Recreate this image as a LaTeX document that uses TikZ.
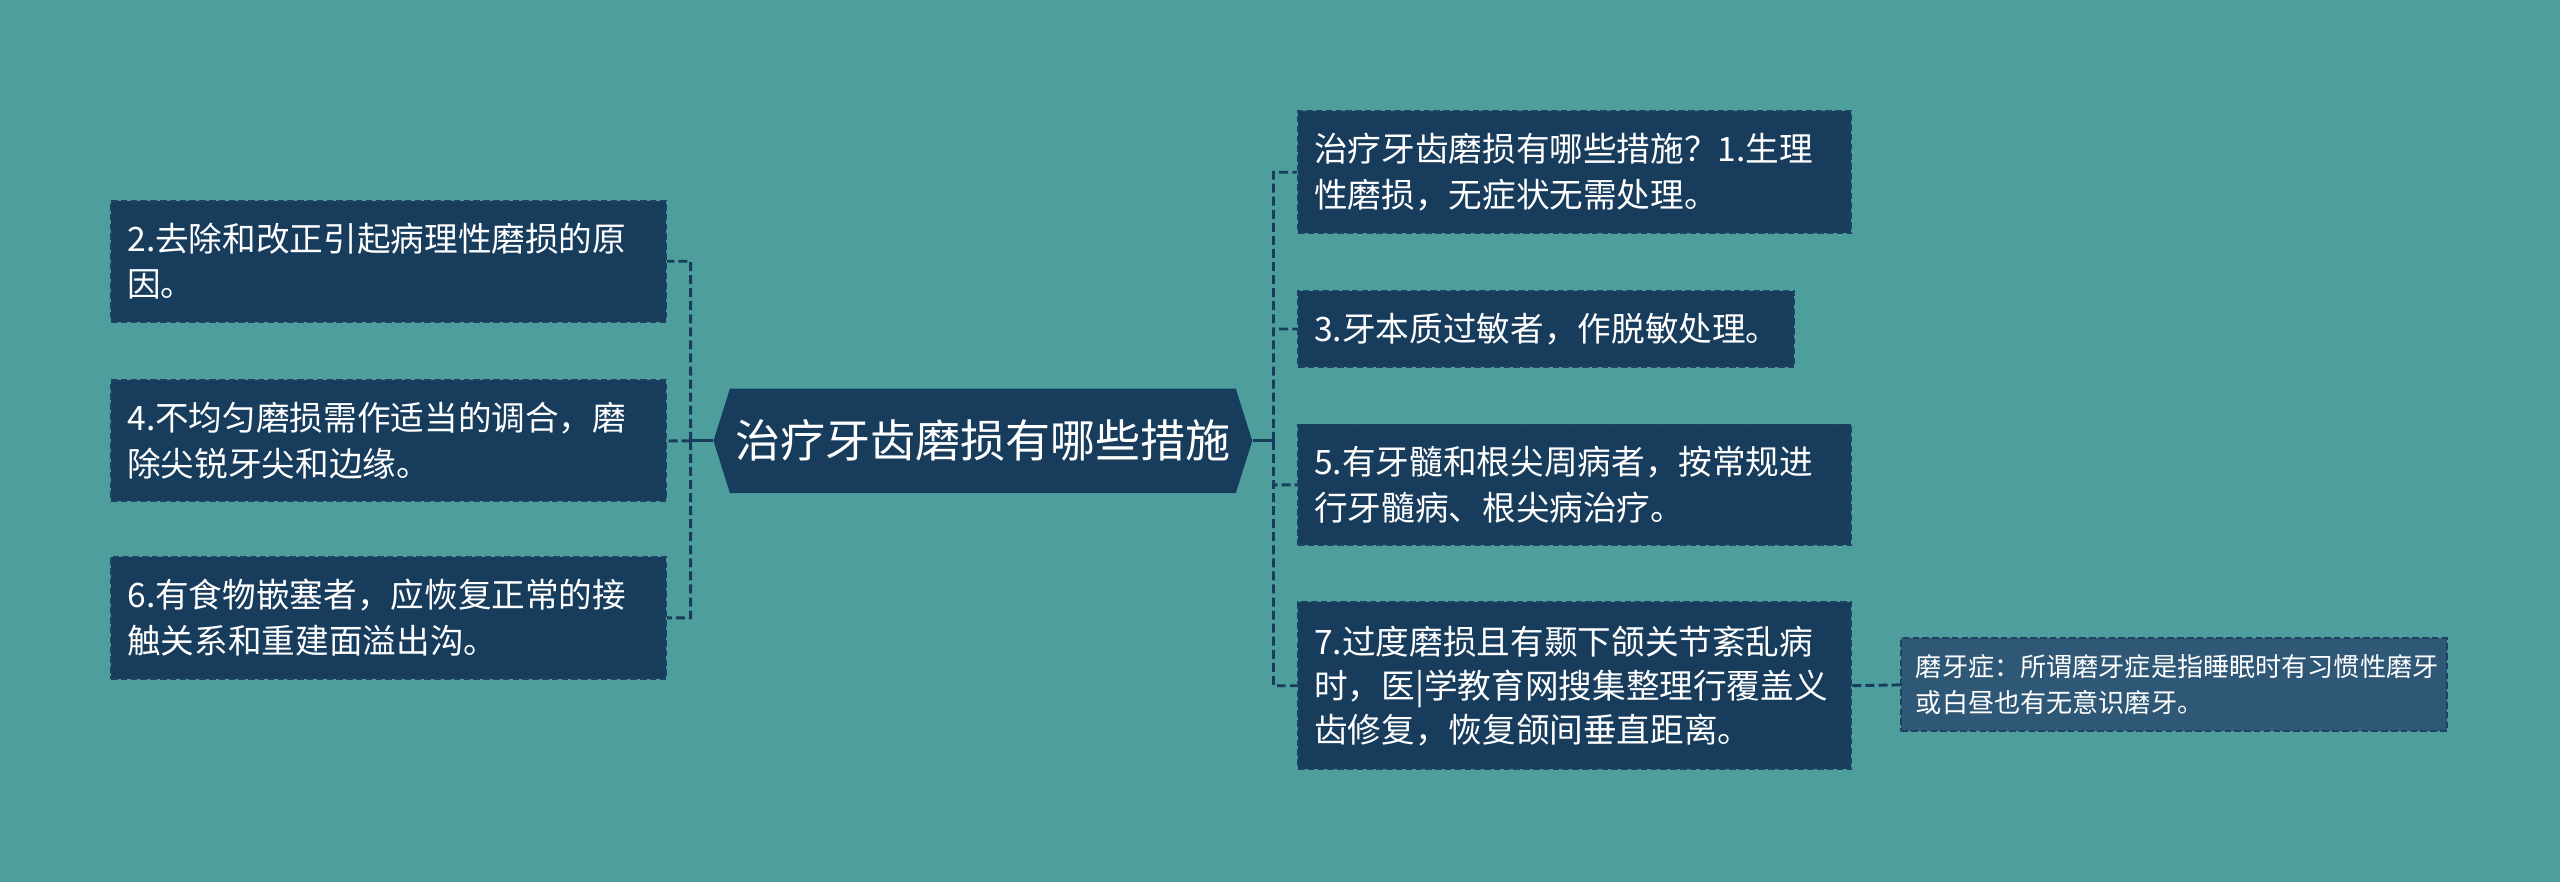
\documentclass[tikz,border=0pt]{standalone}
\usepackage{fontspec}
\setmainfont{Noto Sans CJK SC}
\usetikzlibrary{shapes.symbols}
\definecolor{bgteal}{HTML}{4E9E9D}
\definecolor{boxblue}{HTML}{173C5C}
\definecolor{noteblue}{HTML}{2E5875}
\definecolor{edgeblue}{HTML}{1D4262}
\begin{document}
\begin{tikzpicture}[x=0.5pt, y=-0.5pt,
    leaf/.style={fill=boxblue, draw=edgeblue, dash pattern=on 2pt off 1pt, line width=0.6pt,
                 text=white, align=left, inner xsep=5pt, inner ysep=0pt,
                 font=\fontsize{10.3}{14}\selectfont},
    note/.style={leaf, fill=noteblue, font=\fontsize{8}{11}\selectfont, inner xsep=4.5pt},
    hub/.style={signal, signal to=west and east, signal pointer angle=145, fill=boxblue,
                text=white, inner sep=0pt, minimum width=165pt, minimum height=32pt,
                font=\fontsize{13.8}{16}\selectfont},
    trunk/.style={draw=boxblue, line width=0.9pt},
    twig/.style={trunk, dash pattern=on 2.75pt off 1.25pt}]
  \fill [bgteal] (0, 0) rectangle (1568, 540);
  \useasboundingbox (0, 0) rectangle (1568, 540);
  \node [hub] (hub) at (602, 270) {治疗牙齿磨损有哪些措施};
  % left branch
  \node [leaf, text width=160pt, minimum height=37pt] (m2) at (238, 160)
        {2.去除和改正引起病理性磨损的原\\因。};
  \node [leaf, text width=160pt, minimum height=37pt] (m4) at (238, 270)
        {4.不均匀磨损需作适当的调合，磨\\除尖锐牙尖和边缘。};
  \node [leaf, text width=160pt, minimum height=37.5pt] (m6) at (238, 378.5)
        {6.有食物嵌塞者，应恢复正常的接\\触关系和重建面溢出沟。};
  % right branch
  \node [leaf, text width=159.5pt, minimum height=37.5pt] (m1) at (964.5, 105.5)
        {治疗牙齿磨损有哪些措施？1.生理\\性磨损，无症状无需处理。};
  \node [leaf, text width=142pt, minimum height=23.5pt] (m3) at (947, 201.5)
        {3.牙本质过敏者，作脱敏处理。};
  \node [leaf, text width=159.5pt, minimum height=37pt] (m5) at (964.5, 297)
        {5.有牙髓和根尖周病者，按常规进\\行牙髓病、根尖病治疗。};
  \node [leaf, text width=159.5pt, minimum height=51pt,
         font=\fontsize{10.3}{13.5}\selectfont] (m7) at (964.5, 420)
        {7.过度磨损且有颞下颌关节紊乱病\\时，医|学教育网搜集整理行覆盖义\\齿修复，恢复颌间垂直距离。};
  \node [note, text width=158pt, minimum height=28.5pt] (n7) at (1331.5, 419.5)
        {磨牙症：所谓磨牙症是指睡眠时有习惯性磨牙\\或白昼也有无意识磨牙。};
  \coordinate (lj) at (423, 270);
  \coordinate (rj) at (780, 270);
  \draw [trunk] (hub.west) -- (lj)
                (hub.east) -- (rj);
  \draw [twig] (lj) |- (m2.east)
               (lj) -- (m4.east)
               (lj) |- (m6.east)
               (rj) |- (m1.west)
               (rj) |- (m3.west)
               (rj) |- (m5.west)
               (rj) |- (m7.west)
               (m7.east) -- (n7.west);
\end{tikzpicture}
\end{document}
